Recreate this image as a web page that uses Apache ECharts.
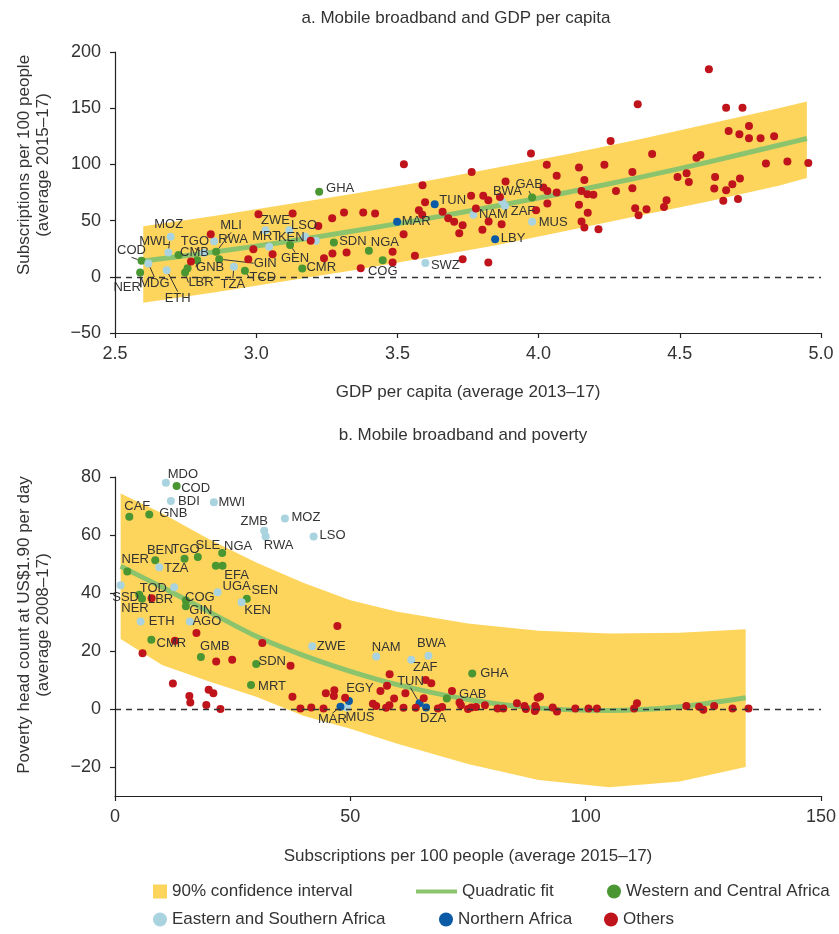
<!DOCTYPE html>
<html>
<head>
<meta charset="utf-8">
<script src="https://cdn.jsdelivr.net/npm/echarts@6/dist/echarts.min.js"></script>
<style>
  html, body { margin: 0; padding: 0; background: #fff; }
  #chart { width: 839px; height: 934px; }
</style>
</head>
<body>
<div id="chart"></div>
<script>
// ---- panel a: mobile broadband vs GDP per capita (log) ----
// [x, y, country code]
const gdpWestCentral = [
  [3.223, 75.6, 'GHA'], [2.594, 14.2, 'COD'], [2.589, 3.8, 'NER'], [2.748, 3.8, 'LBR'],
  [2.757, 7.7, ''], [2.791, 14.8, 'GNB'], [2.858, 22.2, 'MLI'], [2.869, 15.7, 'GIN'],
  [2.960, 5.3, 'TCD'], [3.120, 28.4, 'GEN'], [3.163, 7.4, 'CMR'], [3.275, 30.5, 'SDN'],
  [3.399, 23.1, 'NGA'], [3.448, 14.8, 'COG'], [3.977, 70.5, 'GAB'], [2.725, 19.5, 'CMB']
];
const gdpEastSouth = [
  [2.697, 35.6, 'MOZ'], [2.689, 21.6, 'MWL'], [2.618, 11.9, 'MDG'], [2.683, 5.9, 'ETH'],
  [2.815, 21.3, 'TGO'], [2.851, 31.7, 'RWA'], [2.921, 8.9, 'TZA'], [3.033, 41.5, 'ZWE'],
  [3.046, 26.7, 'MRT'], [3.117, 41.5, 'KEN'], [3.173, 35.8, 'LSO'], [3.211, 32.0, ''],
  [3.599, 12.2, 'SWZ'], [3.769, 55.1, 'NAM'], [3.872, 66.7, 'BWA'], [3.881, 63.1, 'ZAF'],
  [3.977, 48.9, 'MUS']
];
const gdpNorth = [[3.499, 48.9, 'MAR'], [3.632, 64.6, 'TUN'], [3.846, 33.5, 'LBY']];
const gdpOthers = [
  [2.769, 13.6], [2.839, 37.9], [2.972, 15.7], [2.990, 24.6], [3.008, 55.7], [3.058, 20.1],
  [3.129, 56.3], [3.193, 32.0], [3.220, 45.3], [3.269, 52.1], [3.311, 57.2], [3.270, 20.7],
  [3.320, 21.6], [3.240, 16.6], [3.523, 100.2], [3.763, 93.3], [3.973, 109.6], [4.029, 99.6],
  [3.589, 81.5], [3.598, 66.4], [3.576, 59.3], [3.588, 55.1], [3.660, 57.8], [3.680, 52.1],
  [3.701, 48.9], [3.731, 45.9], [3.719, 38.8], [3.761, 72.0], [3.804, 72.0], [3.822, 68.1],
  [3.778, 60.7], [3.883, 84.7], [3.863, 71.1], [3.823, 49.2], [3.801, 41.8], [3.869, 46.8],
  [3.991, 59.3], [4.017, 79.4], [4.031, 76.4], [3.522, 37.9], [3.562, 18.7], [3.483, 22.2],
  [3.483, 12.7], [3.370, 7.7], [3.379, 57.2], [3.421, 56.3], [3.731, 15.7], [3.822, 12.7],
  [4.603, 184.6], [4.351, 153.5], [4.664, 150.5], [4.722, 150.5], [4.255, 120.9], [4.673, 129.8],
  [4.711, 126.8], [4.745, 134.2], [4.745, 123.3], [4.786, 123.3], [4.834, 125.0], [4.402, 109.3],
  [4.559, 106.0], [4.573, 108.4], [4.143, 97.2], [4.233, 99.6], [4.064, 89.8], [4.162, 86.2],
  [4.332, 93.3], [4.492, 88.9], [4.524, 92.2], [4.532, 84.4], [4.625, 88.9], [4.713, 87.4],
  [4.686, 82.4], [4.622, 78.5], [4.664, 77.0], [4.654, 67.6], [4.706, 69.3], [4.805, 100.7],
  [4.881, 102.5], [4.955, 101.3], [4.064, 75.0], [4.031, 65.2], [4.152, 76.4], [4.173, 73.5],
  [4.194, 72.9], [4.143, 64.0], [4.174, 56.9], [4.152, 49.2], [4.162, 43.8], [4.212, 42.4],
  [4.274, 76.4], [4.332, 78.8], [4.342, 61.0], [4.354, 54.8], [4.382, 60.2], [4.453, 68.2],
  [4.444, 62.2]
];
const curveXA = [2.6, 2.85, 3.1, 3.35, 3.6, 3.85, 4.1, 4.35, 4.6, 4.85, 4.95];
const ciLowA = [-23, -14, -4, 6, 17, 28, 41, 54, 67, 81, 88];
const ciHighA = [45, 54, 64, 74, 85, 97, 109, 122, 136, 150, 156];
const fitA = [14, 22, 31, 41, 51.5, 63, 75, 88, 102, 117, 123];

// ---- panel b: mobile broadband vs poverty ----
const povWestCentral = [
  [13.09, 76.9, 'COD'], [3.04, 66.3, 'CAF'], [7.28, 67.1, 'GNB'], [2.61, 47.4, 'NER'],
  [8.55, 51.3, 'BEN'], [14.77, 51.8, 'TGO'], [17.6, 52.4, 'SLE'], [22.77, 53.8, 'NGA'],
  [21.43, 49.4, ''], [22.85, 49.4, 'EFA'], [28.0, 38.0, 'SEN'], [5.16, 39.4, 'TOD'],
  [5.73, 38.0, 'NER'], [15.06, 37.4, 'COG'], [15.06, 35.4, 'GIN'], [7.72, 23.9, 'CMR'],
  [18.25, 17.9, 'GMB'], [30.0, 15.5, 'SDN'], [28.9, 8.3, 'MRT'], [75.9, 12.2, 'GHA'],
  [70.5, 3.6, 'GAB']
];
const povEastSouth = [
  [10.82, 78.0, 'MDO'], [11.88, 71.7, 'BDI'], [21.0, 71.3, 'MWI'], [31.7, 61.5, 'ZMB'],
  [32.0, 59.5, 'RWA'], [36.1, 65.7, 'MOZ'], [42.2, 59.5, 'LSO'], [9.4, 48.9, 'TZA'],
  [1.2, 42.7, 'SSD'], [12.58, 42.0, ''], [21.8, 40.3, 'UGA'], [26.9, 36.8, 'KEN'],
  [5.45, 30.2, 'ETH'], [15.9, 30.2, 'AGO'], [41.9, 21.6, 'ZWE'], [55.5, 18.1, 'NAM'],
  [62.95, 17.0, 'ZAF'], [66.6, 18.4, 'BWA'], [49.3, 0.5, 'MUS']
];
const povNorth = [[47.9, 0.8, 'MAR'], [49.7, 2.8, 'EGY'], [64.7, 2.0, 'TUN'], [66.1, 0.5, 'DZA']];
const povOthers = [
  [7.78, 38.2, 'LBR'], [17.3, 26.2], [47.25, 28.6], [31.3, 22.8], [12.73, 23.5], [5.85, 19.2],
  [21.5, 16.4], [24.9, 17.0], [37.3, 14.9], [12.3, 8.8], [15.8, 4.5], [16.0, 2.2], [19.9, 6.6],
  [20.9, 5.4], [19.4, 1.4], [22.4, 0], [37.7, 4.2], [39.4, 0.2], [41.7, 0.5], [44.3, 0.2],
  [44.8, 5.4], [46.6, 6.5], [46.5, 4.5], [48.9, 3.9], [58.35, 12.0], [57.8, 8.0], [56.4, 6.2],
  [61.7, 5.4], [66.0, 10.0], [67.2, 8.9], [65.6, 3.7], [71.6, 6.2], [59.3, 3.6], [54.8, 1.8],
  [55.5, 1.0], [57.6, 0.4], [58.3, 1.3], [61.3, 0.4], [63.9, 0.4], [68.6, 0.2], [69.5, 0.7],
  [73.5, 1.3], [73.2, 2.2], [75.0, 0], [75.7, 0.5], [76.7, 0.7], [78.6, 1.3], [81.3, 0.2],
  [82.5, 0.2], [85.4, 2.0], [87.0, 1.0], [87.3, 0], [89.5, 0.2], [89.8, 3.9], [90.3, 4.3],
  [89.3, 1.0], [89.2, -0.7], [93.0, 0.5], [93.9, -0.9], [97.8, 0.2], [100.6, 0.2], [102.4, 0.2],
  [110.3, 0.2], [110.9, 2.0], [121.4, 1.0], [124.1, 0.8], [125.0, -0.3], [127.3, 1.0],
  [131.2, 0.2], [134.6, 0.2]
];
const curveXB = [1.2, 10, 20, 30, 40, 50, 60, 75, 90, 105, 120, 134];
const ciLowB = [24.1, 15.2, 9.5, 4.2, -2.3, -6.8, -12, -19, -24.5, -27, -25, -20];
const ciHighB = [74.3, 67.5, 58.5, 50.5, 43.5, 37.5, 33.5, 29.5, 27, 26, 26.3, 27.5];
const fitB = [49.2, 42, 33.5, 25.1, 18.5, 13, 8.4, 3.3, 0.3, -0.5, 0.8, 3.9];
const povTicks = [-20, 0, 20, 40, 60, 80];

// ---- label placement (pixel offsets from the dot) ----
const labelOffA = {
  GHA: [21, -3], MOZ: [-2, -12], MWL: [-14, -11], CMB: [16, -2], TGO: [-9, -11], MLI: [15, -26],
  RWA: [19, -2], ZWE: [10, -10], MRT: [-3, -10], LSO: [-1, -11], KEN: [2, 7], GEN: [5, 14],
  GIN: [46, 4], GNB: [13, 7], LBR: [16, 10], TZA: [-1, 18], TCD: [18, 7], CMR: [19, -1],
  NER: [-13, 15], MDG: [6, 20], ETH: [11, 28], COD: [-10, -10], SDN: [19, -1], NGA: [16, -8],
  COG: [0, 11], SWZ: [20, 2], MAR: [19, 0], TUN: [18, -4], NAM: [20, 0], BWA: [5, -10],
  GAB: [-3, -13], ZAF: [18, 6], LBY: [18, -1], MUS: [21, 1]
};
const leadersA = ['MWL', 'TGO', 'MLI', 'MRT', 'GEN', 'GIN', 'GNB', 'LBR', 'TZA', 'TCD', 'NER', 'MDG', 'ETH', 'COD', 'GAB'];
const labelOffB = {
  MDO: [17, -8], COD: [19, 2], BDI: [18, 0], MWI: [18, 0], CAF: [8, -10], GNB: [24, -1],
  ZMB: [-10, -9], RWA: [13, 9], MOZ: [21, -1], LSO: [19, -1], NER: [8, -12], 'NER@5.73': [-7, 10],
  BEN: [5, -10], TGO: [1, -9], SLE: [10, -12], NGA: [16, -7], TZA: [17, 1], EFA: [14, 10],
  UGA: [19, -6], SEN: [18, -8], KEN: [16, 8], SSD: [5, 12], TOD: [14, -6], LBR: [9, 1],
  COG: [14, -3], GIN: [15, 4], ETH: [21, 0], AGO: [17, 0], CMR: [20, 4], GMB: [14, -11],
  ZWE: [19, 0], SDN: [16, -3], MRT: [21, 1], MAR: [-8, 13], EGY: [11, -12], MUS: [13, 10],
  NAM: [10, -9], BWA: [3, -12], ZAF: [14, 8], TUN: [-9, -22], DZA: [7, 11], GHA: [22, 0],
  GAB: [26, -4]
};
const leadersB = ['MAR', 'TUN'];

const FONT = '"Liberation Sans", Arial, sans-serif';
const INK = '#333333';
const C_WEST = '#4a9632', C_EAST = '#a9d3df', C_NORTH = '#0b5aa6', C_OTHER = '#c0141c';
const C_BAND = '#fdd55c', C_FIT = '#8cc46e';

const minus = v => (v < 0 ? '\u2212' + Math.abs(v) : String(v));

function dots(name, axis, pts, color, offs, leaders) {
  return {
    name: name, type: 'scatter', xAxisIndex: axis, yAxisIndex: axis,
    symbolSize: 8, z: 4,
    itemStyle: { color: color, opacity: 1 },
    data: pts.map(p => ({
      value: [p[0], p[1]], name: p[2] || '',
      label: { show: !!p[2] },
      labelLine: { show: leaders.indexOf(p[2]) >= 0 }
    })),
    label: {
      position: 'inside', formatter: '{b}', color: INK, fontSize: 13,
      fontFamily: FONT, textBorderWidth: 0
    },
    labelLine: { lineStyle: { color: INK, width: 1 } },
    labelLayout: function (prm) {
      const p = pts[prm.dataIndex];
      if (!p || !p[2]) return {};
      const o = offs[p[2] + '@' + p[0]] || offs[p[2]] || [0, 0];
      return { dx: o[0], dy: o[1] };
    }
  };
}

// confidence band as one polygon: upper bound left to right, lower bound back
function band(axis, xs, lo, hi) {
  return {
    name: '90% confidence interval', type: 'custom', xAxisIndex: axis, yAxisIndex: axis,
    silent: true, z: 1,
    itemStyle: { color: C_BAND },
    data: [[xs[0], hi[0]]],
    renderItem: function (params, api) {
      const top = xs.map((x, i) => api.coord([x, hi[i]]));
      const bottom = xs.map((x, i) => api.coord([x, lo[i]])).reverse();
      return {
        type: 'polygon',
        shape: { points: top.concat(bottom) },
        style: { fill: C_BAND }
      };
    }
  };
}

function fit(axis, xs, ys) {
  return {
    name: 'Quadratic fit', type: 'line', xAxisIndex: axis, yAxisIndex: axis,
    smooth: 0.3, showSymbol: false, silent: true, z: 3,
    itemStyle: { color: C_FIT },
    lineStyle: { color: C_FIT, width: 5 },
    data: xs.map((x, i) => [x, ys[i]]),
    markLine: {
      silent: true, symbol: 'none', label: { show: false },
      lineStyle: { color: INK, type: [6, 5], width: 1.3 },
      data: [{ yAxis: 0 }]
    }
  };
}

const axisCommon = {
  z: 6,
  axisLine: { show: true, onZero: false, lineStyle: { color: '#222', width: 1.2 } },
  axisTick: { show: true, length: 5, lineStyle: { color: '#222', width: 1.2 } },
  splitLine: { show: false }
};
const labelCommon = { color: INK, fontSize: 18, fontFamily: FONT };
const nameStyle = { color: INK, fontSize: 17, fontFamily: FONT };

function legendItem(name, left, top, icon, w, h, color) {
  return {
    left: left, top: top, orient: 'horizontal', selectedMode: false,
    itemWidth: w, itemHeight: h,
    textStyle: { color: INK, fontSize: 17, fontFamily: FONT },
    data: [{ name: name, icon: icon, itemStyle: { color: color, opacity: 1 } }]
  };
}

const chart = echarts.init(document.getElementById('chart'), null, { renderer: 'canvas' });
chart.setOption({
  animation: false,
  backgroundColor: '#fff',
  title: [
    { text: 'a. Mobile broadband and GDP per capita', left: 451, top: 5, textAlign: 'center',
      textStyle: { color: INK, fontSize: 17, fontWeight: 'normal', fontFamily: FONT } },
    { text: 'b. Mobile broadband and poverty', left: 458, top: 422, textAlign: 'center',
      textStyle: { color: INK, fontSize: 17, fontWeight: 'normal', fontFamily: FONT } }
  ],
  grid: [
    { left: 115, top: 52, width: 706, height: 281 },
    { left: 115, top: 477, width: 707, height: 319 }
  ],
  xAxis: [
    Object.assign({}, axisCommon, {
      type: 'value', gridIndex: 0, min: 2.5, max: 5.0, interval: 0.5,
      axisLabel: Object.assign({}, labelCommon, { margin: 12, formatter: v => v.toFixed(1) }),
      name: 'GDP per capita (average 2013\u201317)', nameLocation: 'middle', nameGap: 51,
      nameTextStyle: nameStyle
    }),
    Object.assign({}, axisCommon, {
      type: 'value', gridIndex: 1, min: 0, max: 150, interval: 50,
      axisLabel: Object.assign({}, labelCommon, { margin: 12 }),
      name: 'Subscriptions per 100 people (average 2015\u201317)', nameLocation: 'middle', nameGap: 52,
      nameTextStyle: nameStyle
    })
  ],
  yAxis: [
    Object.assign({}, axisCommon, {
      type: 'value', gridIndex: 0, min: -50, max: 200, interval: 50,
      axisLabel: Object.assign({}, labelCommon, { margin: 14, formatter: minus })
    }),
    Object.assign({}, axisCommon, {
      type: 'value', gridIndex: 1, min: -30, max: 80,
      axisTick: Object.assign({}, axisCommon.axisTick, { customValues: povTicks }),
      axisLabel: Object.assign({}, labelCommon, { margin: 14, formatter: minus, customValues: povTicks })
    })
  ],
  graphic: [
    { type: 'text', x: 34, y: 165, rotation: Math.PI / 2,
      style: { text: 'Subscriptions per 100 people\n(average 2015\u201317)', align: 'center', verticalAlign: 'middle',
        fill: INK, font: '17px ' + FONT, lineHeight: 19 } },
    { type: 'text', x: 34, y: 625, rotation: Math.PI / 2,
      style: { text: 'Poverty head count at US$1.90 per day\n(average 2008\u201317)', align: 'center', verticalAlign: 'middle',
        fill: INK, font: '17px ' + FONT, lineHeight: 19 } }
  ],
  legend: [
    legendItem('90% confidence interval', 148, 878, 'rect', 14, 14, C_BAND),
    legendItem('Quadratic fit', 411, 878, 'rect', 41, 4, C_FIT),
    legendItem('Western and Central Africa', 602, 878, 'circle', 14, 14, C_WEST),
    legendItem('Eastern and Southern Africa', 148, 906, 'circle', 14, 14, C_EAST),
    legendItem('Northern Africa', 434, 906, 'circle', 14, 14, C_NORTH),
    legendItem('Others', 599, 906, 'circle', 14, 14, C_OTHER)
  ],
  series: [
    band(0, curveXA, ciLowA, ciHighA),
    fit(0, curveXA, fitA),
    dots('Western and Central Africa', 0, gdpWestCentral, C_WEST, labelOffA, leadersA),
    dots('Eastern and Southern Africa', 0, gdpEastSouth, C_EAST, labelOffA, leadersA),
    dots('Northern Africa', 0, gdpNorth, C_NORTH, labelOffA, leadersA),
    dots('Others', 0, gdpOthers, C_OTHER, labelOffA, leadersA),
    band(1, curveXB, ciLowB, ciHighB),
    fit(1, curveXB, fitB),
    dots('Western and Central Africa', 1, povWestCentral, C_WEST, labelOffB, leadersB),
    dots('Eastern and Southern Africa', 1, povEastSouth, C_EAST, labelOffB, leadersB),
    dots('Northern Africa', 1, povNorth, C_NORTH, labelOffB, leadersB),
    dots('Others', 1, povOthers, C_OTHER, labelOffB, leadersB)
  ]
});
</script>
</body>
</html>
